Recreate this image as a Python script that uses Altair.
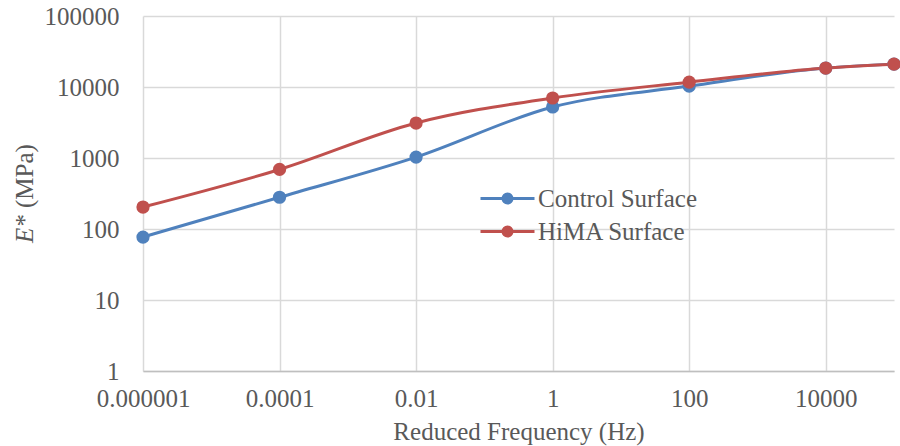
import altair as alt
import pandas as pd

# ---- data ----
freq = [1e-6, 1e-4, 1e-2, 1, 100, 1e4, 1e5]
control = [77, 280, 1030, 5230, 10300, 18500, 21000]
hima = [204, 690, 3110, 7000, 11700, 18500, 21000]
series_names = ["Control Surface", "HiMA Surface"]
series_colors = ["#4F81BD", "#C0504D"]
x_ticks = [1e-6, 1e-4, 1e-2, 1, 100, 1e4]
y_ticks = [1, 10, 100, 1000, 10000, 100000]
y_title_symbol = "E*"
y_title_unit = "(MPa)"
x_title = "Reduced Frequency (Hz)"

rows = []
for name, vals in zip(series_names, [control, hima]):
    for f, v in zip(freq, vals):
        rows.append({"freq": f, "E": v, "series": name})
df = pd.DataFrame(rows)

FONT = "'Liberation Serif', 'DejaVu Serif', serif"
FS = 25
TXT = "#595959"

# legend symbol: line with a filled dot (dot drawn as two concentric stroked rings)
L, r1, r2 = 1.8, 0.3, 0.1
legend_path = (
    f"M{-L},0L{L},0"
    f"M{-r1},0A{r1},{r1},0,1,0,{r1},0A{r1},{r1},0,1,0,{-r1},0"
    f"M{-r2},0A{r2},{r2},0,1,0,{r2},0A{r2},{r2},0,1,0,{-r2},0"
)

x_enc = alt.X(
    "freq:Q",
    scale=alt.Scale(type="log", domain=[1e-6, 1e5], nice=False),
    axis=alt.Axis(
        values=x_ticks,
        labelExpr="datum.value < 1 ? format(datum.value, '.6~f') : format(datum.value, 'd')",
        title=x_title,
        grid=True,
        gridColor="#D9D9D9",
        gridWidth=1.5,
        domainColor="#BFBFBF",
        domainWidth=1.5,
        ticks=False,
        tickSize=0,
        labelFlush=False,
        labelOverlap=False,
        labelPadding=15,
        titlePadding=8,
        labelFont=FONT,
        labelFontSize=FS,
        labelColor=TXT,
        titleFont=FONT,
        titleFontSize=FS,
        titleFontWeight="normal",
        titleColor=TXT,
    ),
)
y_enc = alt.Y(
    "E:Q",
    scale=alt.Scale(type="log", domain=[1, 100000], nice=False),
    axis=alt.Axis(
        values=y_ticks,
        format="d",
        title=None,
        grid=True,
        gridColor="#D9D9D9",
        gridWidth=1.5,
        domain=False,
        ticks=False,
        tickSize=0,
        labelFlush=False,
        labelOverlap=False,
        labelPadding=24,
        labelFont=FONT,
        labelFontSize=FS,
        labelColor=TXT,
    ),
)
color_enc = alt.Color(
    "series:N",
    scale=alt.Scale(domain=series_names, range=series_colors),
    legend=alt.Legend(
        orient="none",
        legendX=348,
        legendY=166,
        title=None,
        symbolType=legend_path,
        symbolSize=900,
        symbolStrokeWidth=3,
        labelFont=FONT,
        labelFontSize=FS,
        labelColor=TXT,
        labelOffset=14,
        rowPadding=3,
    ),
)

lines = alt.Chart(df).mark_line(
    interpolate="monotone", strokeWidth=3
).encode(x=x_enc, y=y_enc, color=color_enc)

points = alt.Chart(df).mark_point(
    filled=True, size=175, opacity=1
).encode(x=x_enc, y=y_enc, color=color_enc)

# y-axis title with italic symbol, rotated
title_sym = alt.Chart(pd.DataFrame({"t": [y_title_symbol]})).mark_text(
    angle=270, align="left", baseline="alphabetic",
    font=FONT, fontSize=FS, fontStyle="italic", color=TXT,
).encode(text="t:N", x=alt.value(-110), y=alt.value(227))

title_unit = alt.Chart(pd.DataFrame({"t": [y_title_unit]})).mark_text(
    angle=270, align="left", baseline="alphabetic",
    font=FONT, fontSize=FS, color=TXT,
).encode(text="t:N", x=alt.value(-110), y=alt.value(192))

chart = (
    alt.layer(lines, points, title_sym, title_unit)
    .properties(
        width=751,
        height=355,
        autosize=alt.AutoSizeParams(type="none"),
        padding={"left": 143, "top": 16, "right": 6, "bottom": 75},
        background="white",
    )
    .configure_view(stroke=None)
)

chart.save("out.html", embed_options={"renderer": "svg", "actions": False})
